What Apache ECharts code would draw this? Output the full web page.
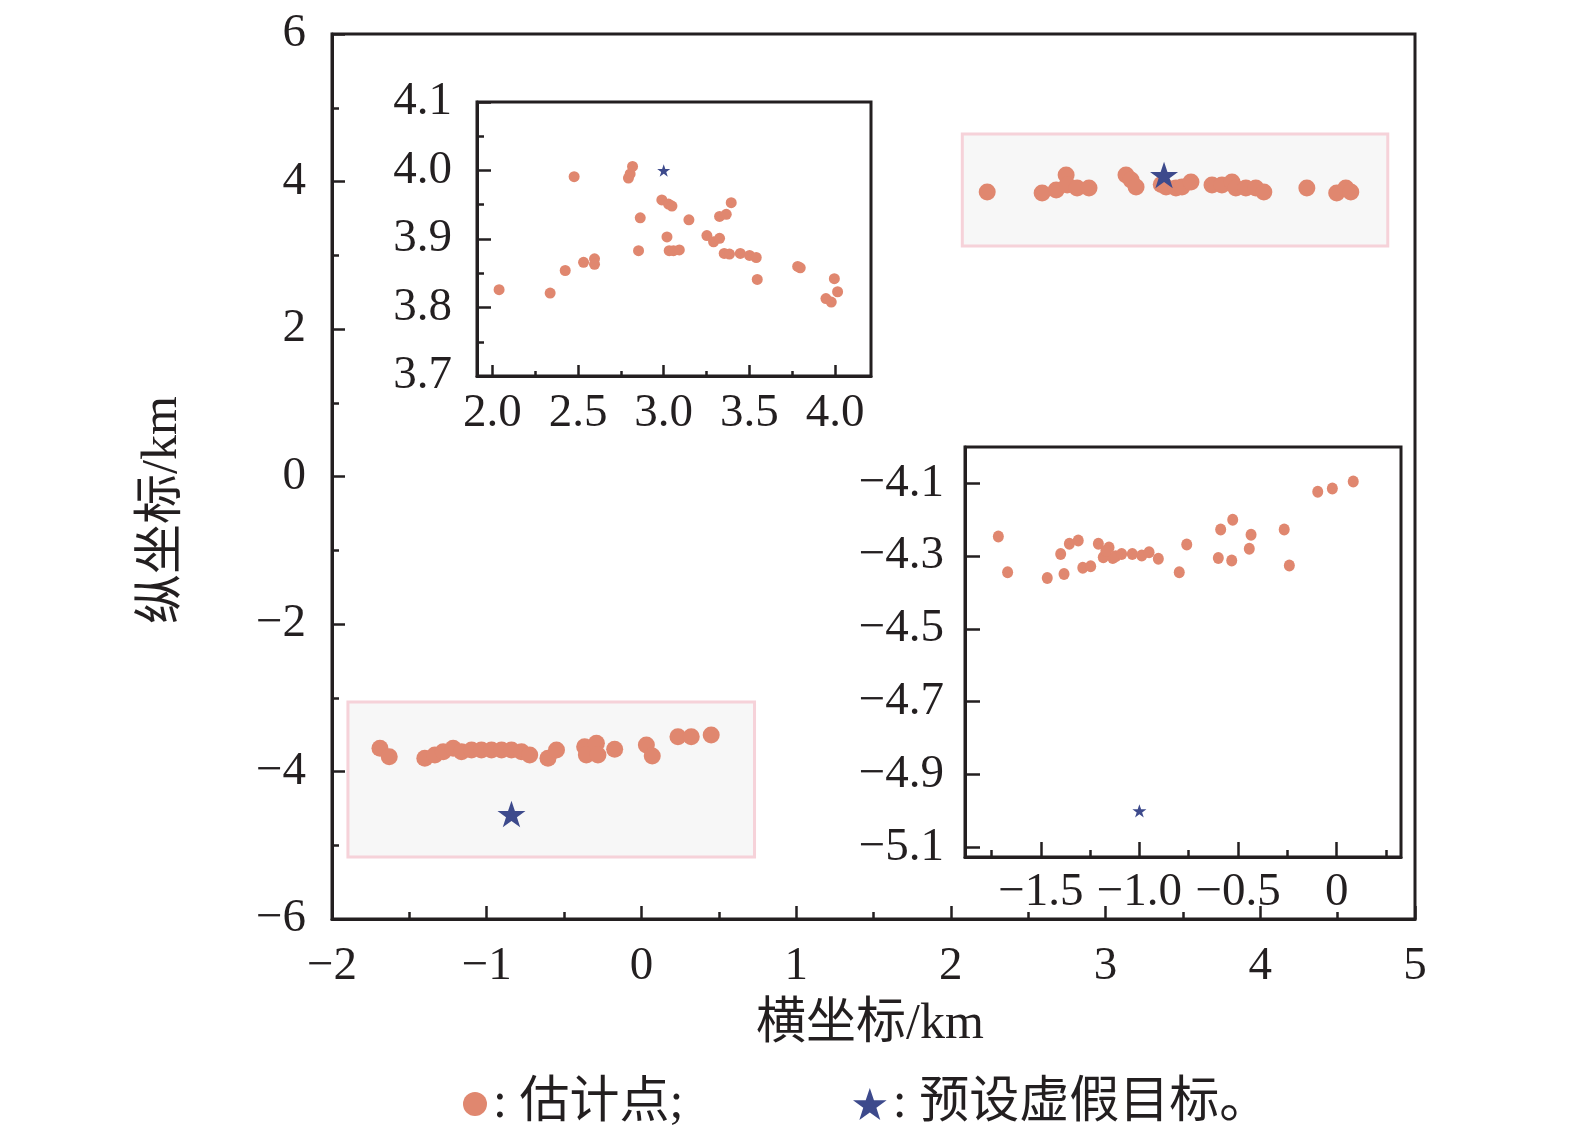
<!DOCTYPE html>
<html>
<head>
<meta charset="utf-8">
<title>估计点与预设虚假目标</title>
<script src="https://cdn.jsdelivr.net/npm/echarts@6/dist/echarts.min.js"></script>
<style>
  html, body { margin: 0; padding: 0; background: #fff; }
  #main { width: 1575px; height: 1135px; }
</style>
</head>
<body>
<div id="main"></div>
<script>
// 主图：右上簇（估计点）
var mainEstUpper = [
    [2.235, 3.858], [2.590, 3.844], [2.681, 3.885], [2.745, 4.088], [2.752, 3.953],
    [2.816, 3.912], [2.893, 3.912], [3.132, 4.088], [3.165, 4.020], [3.197, 3.925],
    [3.360, 3.960], [3.391, 3.925], [3.455, 3.912], [3.494, 3.925], [3.552, 3.993],
    [3.688, 3.953], [3.752, 3.953], [3.817, 3.993], [3.842, 3.912], [3.907, 3.912],
    [3.971, 3.912], [4.023, 3.858], [4.301, 3.912], [4.494, 3.844], [4.553, 3.912],
    [4.585, 3.858]
];
// 主图：左下簇（估计点）
var mainEstLower = [
    [-1.690, -3.685], [-1.630, -3.799], [-1.400, -3.821], [-1.335, -3.776], [-1.281, -3.731],
    [-1.217, -3.685], [-1.163, -3.731], [-1.098, -3.708], [-1.034, -3.708], [-0.969, -3.708],
    [-0.904, -3.708], [-0.840, -3.708], [-0.775, -3.731], [-0.722, -3.776], [-0.604, -3.821],
    [-0.549, -3.708], [-0.367, -3.664], [-0.356, -3.776], [-0.291, -3.618], [-0.281, -3.776],
    [-0.173, -3.699], [0.032, -3.641], [0.070, -3.790], [0.236, -3.528], [0.322, -3.528],
    [0.451, -3.505]
];
// 主图：预设虚假目标
var mainTargets = [[3.378, 4.088], [-0.840, -4.576]];
// 高亮框 [x1, y1, x2, y2]
var highlightBoxes = [[2.074, 4.644, 4.824, 3.125], [-1.897, -3.058, 0.731, -5.159]];

// 插图1（左上）
var inset1Est = [
    [2.039, 3.826], [2.337, 3.821], [2.425, 3.854], [2.477, 3.991], [2.532, 3.866],
    [2.596, 3.871], [2.596, 3.863], [2.794, 3.989], [2.804, 3.995], [2.818, 4.006],
    [2.863, 3.931], [2.853, 3.883], [2.989, 3.957], [3.019, 3.903], [3.028, 3.951],
    [3.048, 3.948], [3.032, 3.883], [3.057, 3.883], [3.091, 3.884], [3.147, 3.928],
    [3.252, 3.905], [3.291, 3.896], [3.326, 3.901], [3.326, 3.933], [3.365, 3.936],
    [3.394, 3.953], [3.353, 3.879], [3.384, 3.878], [3.447, 3.879], [3.501, 3.876],
    [3.540, 3.873], [3.546, 3.841], [3.782, 3.860], [3.797, 3.858], [3.996, 3.842],
    [4.015, 3.823], [3.947, 3.813], [3.978, 3.808]
];
var inset1Target = [[3.0, 4.0]];
var inset1XMajor = [2.0, 2.5, 3.0, 3.5, 4.0];
var inset1XMinor = [2.25, 2.75, 3.25, 3.75];

// 插图2（右下）
var inset2Est = [
    [-1.715, -4.246], [-1.668, -4.344], [-1.467, -4.360], [-1.382, -4.349], [-1.399, -4.294],
    [-1.355, -4.266], [-1.310, -4.257], [-1.287, -4.332], [-1.247, -4.328], [-1.208, -4.266],
    [-1.183, -4.303], [-1.154, -4.276], [-1.135, -4.305], [-1.170, -4.285], [-1.120, -4.300],
    [-1.090, -4.294], [-1.036, -4.294], [-0.988, -4.298], [-0.951, -4.289], [-0.904, -4.307],
    [-0.798, -4.344], [-0.760, -4.268], [-0.600, -4.305], [-0.588, -4.227], [-0.532, -4.312],
    [-0.527, -4.200], [-0.443, -4.280], [-0.434, -4.241], [-0.266, -4.227], [-0.240, -4.326],
    [-0.096, -4.123], [-0.022, -4.114], [0.084, -4.095]
];
var inset2Target = [[-1.0, -5.0]];
var inset2XMajor = [-1.5, -1.0, -0.5, 0];
var inset2XMinor = [-1.75, -1.25, -0.75, -0.25, 0.25];
var inset2YMajor = [-5.1, -4.9, -4.7, -4.5, -4.3, -4.1];

var DOT = '#e0876f';
var STAR = '#3d4a8c';
var INK = '#231f20';
var SERIF = '"Liberation Serif", "Times New Roman", serif';
var CJK = '"Liberation Serif", "Noto Sans CJK SC", serif';
var starPath = 'path://M50,0 L61.8,35.1 L98.1,35.1 L68.8,56.7 L79.9,91.5 L50,70 L20.1,91.5 L31.2,56.7 L1.9,35.1 L38.2,35.1 Z';

function minus(s) { return String(s).replace('-', '\u2212'); }

var myChart = echarts.init(document.getElementById('main'));

function lineAxis(extra) {
    var base = {
        splitLine: { show: false },
        axisLine: { show: true, onZero: false, lineStyle: { color: INK, width: 3 } },
        axisTick: { show: true, inside: true, length: 12, lineStyle: { color: INK, width: 2.5 } },
        axisLabel: { color: INK, fontFamily: SERIF, fontSize: 47 }
    };
    return echarts.util.merge(base, extra, true);
}

var option = {
    backgroundColor: '#fff',
    animation: false,
    grid: [
        { left: 332, top: 34, width: 1083, height: 885, show: true, borderWidth: 3, borderColor: INK, backgroundColor: 'transparent', outerBoundsMode: 'none' },
        { left: 477, top: 102, width: 394, height: 274, show: true, borderWidth: 3, borderColor: INK, backgroundColor: '#fff', outerBoundsMode: 'none' },
        { left: 965, top: 447, width: 436, height: 410, show: true, borderWidth: 3, borderColor: INK, backgroundColor: '#fff', outerBoundsMode: 'none' }
    ],
    xAxis: [
        lineAxis({
            type: 'value', gridIndex: 0, min: -2, max: 5, interval: 1,
            axisTick: { length: 13 },
            minorTick: { show: true, splitNumber: 2, length: 7, lineStyle: { color: INK, width: 2.5 } },
            axisLabel: { margin: 24, formatter: function (v) { return minus(v); } }
        }),
        lineAxis({
            type: 'value', gridIndex: 1, position: 'bottom', min: 1.91, max: 4.21,
            axisTick: { customValues: inset1XMajor, length: 11 },
            axisLabel: { margin: 14, customValues: inset1XMajor, formatter: function (v) { return v.toFixed(1); } }
        }),
        lineAxis({
            type: 'value', gridIndex: 1, position: 'bottom', min: 1.91, max: 4.21,
            axisLine: { show: false },
            axisTick: { customValues: inset1XMinor, length: 5 },
            axisLabel: { show: false }
        }),
        lineAxis({
            type: 'value', gridIndex: 2, position: 'bottom', min: -1.884, max: 0.326,
            axisTick: { customValues: inset2XMajor, length: 15 },
            axisLabel: { margin: 12, customValues: inset2XMajor, formatter: function (v) { return v === 0 ? '0' : minus(v.toFixed(1)); } }
        }),
        lineAxis({
            type: 'value', gridIndex: 2, position: 'bottom', min: -1.884, max: 0.326,
            axisLine: { show: false },
            axisTick: { customValues: inset2XMinor, length: 7 },
            axisLabel: { show: false }
        })
    ],
    yAxis: [
        lineAxis({
            type: 'value', gridIndex: 0, min: -6, max: 6, interval: 2,
            axisTick: { length: 13 },
            minorTick: { show: true, splitNumber: 2, length: 7, lineStyle: { color: INK, width: 2.5 } },
            axisLabel: { margin: 26, formatter: function (v) { return minus(v); } }
        }),
        lineAxis({
            type: 'value', gridIndex: 1, min: 3.7, max: 4.1, interval: 0.1,
            axisTick: { length: 14 },
            minorTick: { show: true, splitNumber: 2, length: 7, lineStyle: { color: INK, width: 2.5 } },
            axisLabel: { margin: 25, showMinLabel: true, showMaxLabel: true, formatter: function (v) { return v.toFixed(1); } }
        }),
        lineAxis({
            type: 'value', gridIndex: 2, min: -5.127, max: -4.0,
            axisTick: { customValues: inset2YMajor, length: 15 },
            axisLabel: { margin: 21, customValues: inset2YMajor, formatter: function (v) { return minus(v.toFixed(1)); } }
        })
    ],
    legend: [
        {
            left: 458, top: 1074, itemWidth: 26, itemHeight: 24,
            data: [{ name: '估计点', icon: 'circle' }],
            formatter: function () { return ': 估计点;'; },
            textStyle: { fontFamily: CJK, fontSize: 50, color: INK }
        },
        {
            left: 848, top: 1074, itemWidth: 36, itemHeight: 32,
            data: [{ name: '预设虚假目标', icon: starPath }],
            formatter: function () { return ': 预设虚假目标。'; },
            textStyle: { fontFamily: CJK, fontSize: 50, color: INK }
        }
    ],
    graphic: [
        {
            type: 'text', x: 870, y: 1025,
            style: { text: '横坐标/km', font: '50px ' + CJK, fill: INK, align: 'center', verticalAlign: 'middle' }
        },
        {
            type: 'text', x: 163, y: 510, rotation: Math.PI / 2,
            style: { text: '纵坐标/km', font: '50px ' + CJK, fill: INK, align: 'center', verticalAlign: 'middle' }
        }
    ],
    series: [
        {
            name: '估计点', type: 'scatter', xAxisIndex: 0, yAxisIndex: 0,
            symbolSize: 17, itemStyle: { color: DOT, opacity: 1 },
            data: mainEstUpper.concat(mainEstLower),
            markArea: {
                silent: true,
                itemStyle: { color: '#f7f7f7', borderColor: '#f6d2d9', borderWidth: 3 },
                data: highlightBoxes.map(function (b) {
                    return [{ coord: [b[0], b[1]] }, { coord: [b[2], b[3]] }];
                })
            }
        },
        {
            name: '预设虚假目标', type: 'scatter', xAxisIndex: 0, yAxisIndex: 0,
            symbol: starPath, symbolKeepAspect: true, symbolSize: 28, z: 4,
            itemStyle: { color: STAR, opacity: 1 },
            data: mainTargets
        },
        {
            name: '估计点', type: 'scatter', xAxisIndex: 1, yAxisIndex: 1,
            symbolSize: 11, itemStyle: { color: DOT, opacity: 1 },
            data: inset1Est
        },
        {
            name: '预设虚假目标', type: 'scatter', xAxisIndex: 1, yAxisIndex: 1,
            symbol: starPath, symbolKeepAspect: true, symbolSize: 13, z: 4,
            itemStyle: { color: STAR, opacity: 1 },
            data: inset1Target
        },
        {
            name: '估计点', type: 'scatter', xAxisIndex: 3, yAxisIndex: 2,
            symbolSize: [11, 12], itemStyle: { color: DOT, opacity: 1 },
            data: inset2Est
        },
        {
            name: '预设虚假目标', type: 'scatter', xAxisIndex: 3, yAxisIndex: 2,
            symbol: starPath, symbolKeepAspect: true, symbolSize: 14, z: 4,
            itemStyle: { color: STAR, opacity: 1 },
            data: inset2Target
        }
    ]
};

myChart.setOption(option);
</script>
</body>
</html>
